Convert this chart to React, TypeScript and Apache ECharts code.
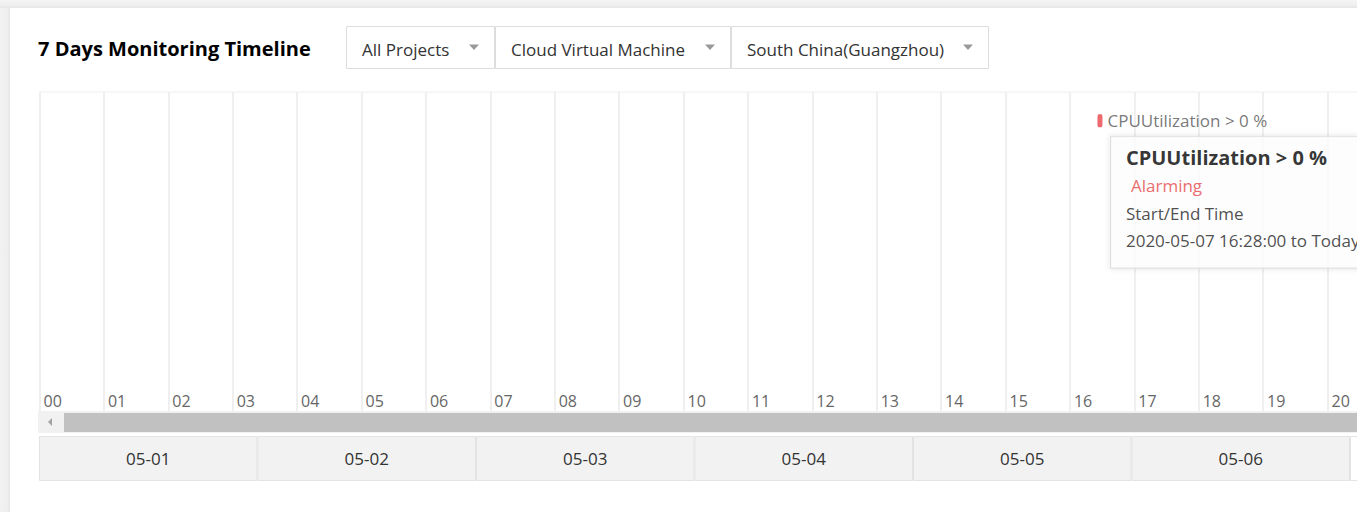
import React, { useEffect, useRef } from "react";
import * as echarts from "echarts";

const TITLE = "7 Days Monitoring Timeline";
const FILTERS = ["All Projects", "Cloud Virtual Machine", "South China(Guangzhou)"];
const HOUR_TICKS = ["00", "01", "02", "03", "04", "05", "06", "07", "08", "09", "10", "11", "12", "13", "14", "15", "16", "17", "18", "19", "20"];
const DATES = ["05-01", "05-02", "05-03", "05-04", "05-05", "05-06", "05-07"];
const SELECTED_DATE = "05-07";
const ALARM_NAME = "CPUUtilization > 0 %";
const ALARM_STATUS = "Alarming";
const ALARM_START = "2020-05-07 16:28:00";
const ALARM_END = "Today";
const ALARM_HOUR = 16 + 28 / 60;
const ALARM_ROW = 0.91;

const FONT = "'Open Sans', 'Noto Sans', sans-serif";

export default function App() {
  const ref = useRef<HTMLDivElement>(null);
  useEffect(() => {
    if (!ref.current) return;
    const chart = echarts.init(ref.current, undefined, { renderer: "svg" });

    const boxes = [
      { x: 346, w: 149 },
      { x: 495, w: 236 },
      { x: 731, w: 258 },
    ];
    const filterGraphics: any[] = [];
    FILTERS.forEach((f, i) => {
      const b = boxes[i];
      filterGraphics.push({
        type: "rect",
        shape: { x: b.x + 0.5, y: 26.5, width: b.w - 1, height: 42 },
        style: { fill: "#fff", stroke: "#dddddd", lineWidth: 1 },
      });
      filterGraphics.push({
        type: "text",
        style: { x: b.x + 16, y: 49, text: f, fill: "#333", font: `17px ${FONT}`, verticalAlign: "middle" },
      });
      const ax = b.x + b.w - 21;
      filterGraphics.push({
        type: "polygon",
        shape: { points: [[ax - 5, 44.5], [ax + 5, 44.5], [ax, 50]] },
        style: { fill: "#999" },
      });
    });

    chart.setOption({
      animation: false,
      backgroundColor: "#ffffff",
      textStyle: { fontFamily: FONT },
      grid: [
        { left: 39.5, top: 92, width: 21 * 64.4, height: 320, show: true, borderColor: "#eeeeee", borderWidth: 1, backgroundColor: "#fff", outerBoundsMode: "none", containLabel: false },
        { left: 39, top: 436, width: 218.5 * 7, height: 45, outerBoundsMode: "none", containLabel: false },
      ],
      xAxis: [
        {
          type: "value",
          gridIndex: 0,
          min: 0,
          max: 21,
          interval: 1,
          axisLine: { show: false },
          axisTick: { show: false },
          splitLine: { show: true, lineStyle: { color: "#efefef", width: 2 } },
          axisLabel: {
            inside: true,
            align: "left",
            margin: 3,
            padding: [0, 0, 0, 4],
            color: "#666",
            fontSize: 16,
            fontFamily: FONT,
            showMaxLabel: false,
            formatter: (v: number) => HOUR_TICKS[Math.round(v)] ?? "",
          },
        },
        { type: "category", gridIndex: 1, data: DATES, show: false },
      ],
      yAxis: [
        { type: "value", gridIndex: 0, min: 0, max: 1, show: false },
        { type: "value", gridIndex: 1, min: 0, max: 1, show: false },
      ],
      series: [
        {
          type: "bar",
          xAxisIndex: 1,
          yAxisIndex: 1,
          barCategoryGap: "0%",
          data: DATES.map((d) => ({
            value: 1,
            itemStyle: { color: d === SELECTED_DATE ? "#ffffff" : "#f2f2f2" },
            label: { show: d !== SELECTED_DATE },
          })),
          itemStyle: { borderColor: "#e3e3e3", borderWidth: 1 },
          label: {
            show: true,
            position: "inside",
            color: "#333",
            fontSize: 17,
            fontFamily: FONT,
            formatter: (p: any) => DATES[p.dataIndex],
          },
          silent: true,
        },
        {
          type: "scatter",
          xAxisIndex: 0,
          yAxisIndex: 0,
          z: 3,
          symbol: "roundRect",
          symbolSize: [5, 13],
          itemStyle: { color: "#e8444a" },
          data: [{ name: ALARM_NAME, value: [ALARM_HOUR, ALARM_ROW] }],
          label: {
            show: true,
            position: "right",
            distance: 5,
            color: "#555",
            fontSize: 17,
            fontFamily: FONT,
            formatter: (p: any) => p.name,
          },
        },
        {
          type: "scatter",
          xAxisIndex: 0,
          yAxisIndex: 0,
          z: 5,
          symbol: "rect",
          symbolSize: 2,
          itemStyle: { color: "rgba(0,0,0,0)" },
          data: [{ name: ALARM_NAME, value: [ALARM_HOUR, ALARM_ROW] }],
          label: {
            show: true,
            position: [12, 17],
            align: "left",
            verticalAlign: "top",
            backgroundColor: "#fff",
            borderColor: "#d8d8d8",
            borderWidth: 1,
            shadowBlur: 6,
            shadowColor: "rgba(0,0,0,0.12)",
            padding: [7, 40, 14, 15],
            formatter: (p: any) =>
              `{t|${p.name}}\n{s|${ALARM_STATUS}}\n{l|Start/End Time}\n{v|${ALARM_START} to ${ALARM_END}}`,
            rich: {
              t: { fontSize: 20, fontWeight: "bold", color: "#000", lineHeight: 28, fontFamily: FONT },
              s: { fontSize: 17, color: "#e54545", lineHeight: 28, padding: [0, 0, 0, 5], fontFamily: FONT },
              l: { fontSize: 17, color: "#222", lineHeight: 27, fontFamily: FONT },
              v: { fontSize: 17, color: "#222", lineHeight: 27, fontFamily: FONT },
            },
          },
        },
      ],
      graphic: [
        {
          type: "rect",
          z: -1,
          shape: { x: 0, y: 0, width: 10, height: 512 },
          style: {
            fill: new echarts.graphic.LinearGradient(0, 0, 1, 0, [
              { offset: 0, color: "#f2f2f2" },
              { offset: 0.7, color: "#efefef" },
              { offset: 1, color: "#e6e6e6" },
            ]),
          },
        },
        {
          type: "rect",
          z: -1,
          shape: { x: 0, y: 0, width: 1357, height: 8 },
          style: {
            fill: new echarts.graphic.LinearGradient(0, 0, 0, 1, [
              { offset: 0, color: "#f5f5f5" },
              { offset: 0.6, color: "#efefef" },
              { offset: 1, color: "#e6e6e6" },
            ]),
          },
        },
        {
          type: "text",
          style: { x: 38, y: 48, text: TITLE, fill: "#000", font: `bold 20px ${FONT}`, verticalAlign: "middle" },
        },
        ...filterGraphics,
        {
          type: "rect",
          z: 50,
          shape: { x: 38, y: 411, width: 1330, height: 22 },
          style: { fill: "#f1f1f1" },
        },
        {
          type: "rect",
          z: 51,
          shape: { x: 64, y: 413, width: 1300, height: 19 },
          style: { fill: "#c1c1c1" },
        },
        {
          type: "polygon",
          z: 51,
          shape: { points: [[48, 422], [52, 418], [52, 426]] },
          style: { fill: "#a3a3a3" },
        },
        {
          type: "rect",
          z: 100,
          shape: { x: 1357, y: 0, width: 15, height: 512 },
          style: { fill: "#fff" },
        },
      ],
    });
    return () => chart.dispose();
  }, []);
  return <div ref={ref} style={{ position: "fixed", left: 0, top: 0, width: 1372, height: 512 }} />;
}
